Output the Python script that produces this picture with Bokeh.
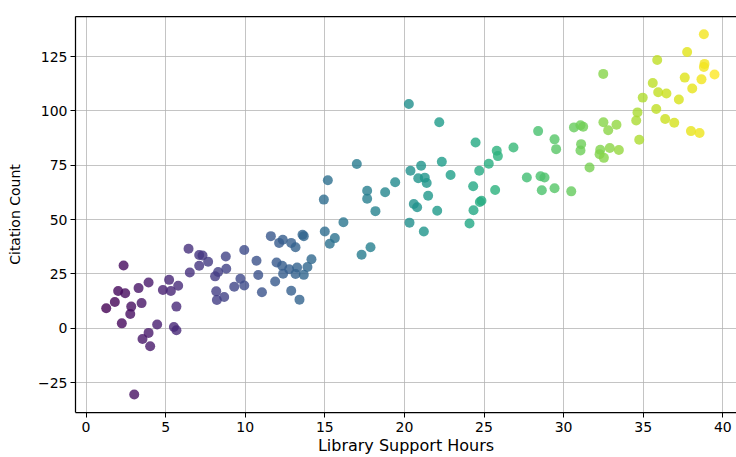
from bokeh.plotting import figure
from bokeh.models import ColumnDataSource, FixedTicker, LinearAxis, CustomJSTickFormatter, Range1d
from bokeh.transform import linear_cmap
from bokeh.palettes import Viridis256
from bokeh.embed import file_html
from bokeh.resources import INLINE

# Library support hours (x) and citation counts (y)
hours = [
    1.27, 1.81, 2.02, 2.46, 2.36, 2.25, 2.84, 2.78, 3.03, 3.30, 3.49, 3.93, 3.93, 3.55, 4.03,
    4.47, 4.83, 5.22, 5.33, 5.79, 5.68, 5.52, 5.68, 6.44, 6.52, 7.11, 7.32, 7.11, 7.67, 8.30,
    8.11, 8.18, 8.22, 8.68, 8.81, 8.78, 9.31, 9.70, 9.94, 9.94, 10.71, 10.82, 11.05,
    11.61, 12.13, 12.36, 12.89, 13.16, 13.60, 13.68, 11.97, 12.32, 12.76, 13.26, 12.38, 13.16,
    13.68, 13.91, 14.16, 11.88, 12.89, 13.41,
    15.00, 15.19, 14.94, 15.63, 15.31, 16.17, 17.01, 17.66, 17.66, 18.18, 18.79, 19.42, 17.87,
    17.31, 20.38, 20.87, 20.59, 20.80, 20.32, 21.05, 20.28, 22.19,
    24.47, 25.80, 25.87, 26.85, 25.30, 24.70, 22.35, 21.28, 21.40, 22.90, 21.49, 22.06, 21.22,
    24.32, 25.70, 24.84, 24.74, 24.34, 24.09, 27.69, 28.55, 28.80, 28.63, 29.43, 30.48, 28.40,
    29.43, 29.53, 30.65,
    38.81, 37.76, 35.88, 32.49, 38.85, 38.81, 39.48, 37.61, 38.66, 35.60, 38.08, 35.94, 36.46,
    37.24, 34.97, 35.82, 34.64, 34.56, 36.38, 36.95, 38.00, 38.54, 34.75, 32.50, 32.80, 33.32,
    31.06, 31.23, 31.10, 31.06, 32.30, 32.26, 32.53, 32.90, 33.47, 31.63,
]
citations = [
    9.2, 12.1, 17.2, 16.1, 28.9, 2.3, 10.0, 6.6, -30.4, 18.5, 11.6, 21.1, -2.1, -4.9, -8.2,
    1.8, 17.6, 22.3, 17.2, 19.6, 10.0, 0.6, -0.9, 36.6, 25.7, 33.7, 33.5, 28.8, 30.6, 25.9,
    23.9, 17.0, 13.0, 14.4, 27.4, 33.0, 19.1, 22.8, 19.7, 36.0, 31.1, 24.5, 16.6,
    42.4, 39.3, 40.7, 39.3, 37.3, 43.0, 42.4, 30.3, 28.8, 27.2, 28.0, 25.1, 25.0,
    24.6, 28.2, 31.8, 21.5, 17.3, 13.2,
    44.5, 68.1, 59.2, 41.5, 38.9, 48.8, 75.6, 63.3, 59.6, 53.9, 62.6, 67.2, 37.3,
    33.8, 72.5, 69.0, 57.2, 55.7, 48.6, 74.8, 103.2, 94.8,
    85.5, 81.7, 79.2, 83.2, 75.7, 72.5, 76.6, 69.3, 66.8, 70.5, 61.0, 54.1, 44.5,
    65.3, 63.6, 58.7, 58.1, 54.3, 48.2, 69.4, 69.9, 69.4, 63.5, 64.4, 63.0, 90.7,
    86.9, 82.4, 92.4,
    135.2, 127.1, 123.4, 117.0, 121.6, 120.2, 116.7, 115.3, 114.5, 112.8, 110.3, 108.6, 108.0,
    105.2, 106.1, 100.9, 99.3, 95.6, 96.3, 94.5, 90.7, 89.8, 86.7, 94.8, 91.1, 93.6,
    93.4, 92.7, 84.7, 81.8, 82.1, 80.1, 78.4, 82.9, 82.0, 74.0,
]
x_ticks = [0, 5, 10, 15, 20, 25, 30, 35, 40]
y_ticks = [-25, 0, 25, 50, 75, 100, 125]
x_label = "Library Support Hours"
y_label = "Citation Count"

src = ColumnDataSource(dict(x=hours, y=citations))

p = figure(
    width=736, height=457,
    output_backend="svg", toolbar_location=None,
    x_range=Range1d(-0.66, 40.86), y_range=Range1d(-38.7, 143.4),
    min_border_left=75, min_border_right=0, min_border_top=16, min_border_bottom=44,
)
p.outline_line_color = None
p.background_fill_color = "white"
p.border_fill_color = "white"

p.scatter("x", "y", source=src, size=10,
          fill_color=linear_cmap("x", Viridis256, min(hours), max(hours)),
          fill_alpha=0.8, line_color=None)

fmt = CustomJSTickFormatter(code="return tick < 0 ? '\\u2212' + Math.abs(tick) : String(tick);")

for ax, ticks in ((p.xaxis[0], x_ticks), (p.yaxis[0], y_ticks)):
    ax.ticker = FixedTicker(ticks=ticks)
    ax.formatter = fmt
    ax.axis_line_color = "black"
    ax.axis_line_width = 1.25
    ax.major_tick_line_color = "black"
    ax.major_tick_line_width = 1
    ax.major_tick_out = 5
    ax.major_tick_in = 0
    ax.minor_tick_out = 0
    ax.minor_tick_in = 0
    ax.major_label_text_font = "DejaVu Sans"
    ax.major_label_text_font_size = "14px"
    ax.major_label_text_color = "black"
    ax.axis_label_text_font = "DejaVu Sans"
    ax.axis_label_text_font_style = "normal"
    ax.axis_label_text_color = "black"
    ax.major_label_standoff = 3

p.xaxis.axis_label = x_label
p.yaxis.axis_label = y_label
p.xaxis.axis_label_text_font_size = "16px"
p.yaxis.axis_label_text_font_size = "14px"
p.xaxis.major_label_standoff = 4
p.xaxis.axis_label_standoff = 1
p.yaxis.axis_label_standoff = 12

top = LinearAxis(ticker=FixedTicker(ticks=[]), axis_line_color="black", axis_line_width=1.25,
                 major_tick_out=0, major_tick_in=0, minor_tick_out=0, minor_tick_in=0,
                 major_label_text_font_size="0px", major_label_standoff=0)
p.add_layout(top, "above")

p.xgrid.ticker = FixedTicker(ticks=x_ticks)
p.ygrid.ticker = FixedTicker(ticks=y_ticks)
p.grid.grid_line_color = "#b0b0b0"
p.grid.grid_line_alpha = 0.75
p.grid.grid_line_width = 1

open("out.html", "w").write(file_html(p, INLINE))
